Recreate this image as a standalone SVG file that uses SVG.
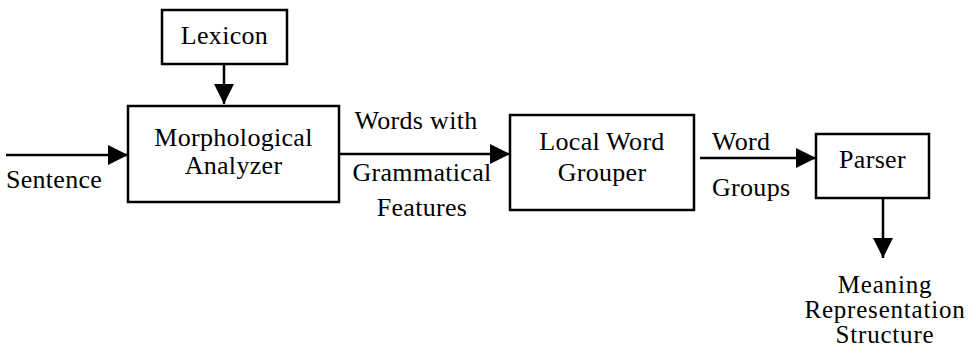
<svg xmlns="http://www.w3.org/2000/svg" width="976" height="356" viewBox="0 0 976 356">
<defs>
<marker id="ah" viewBox="0 0 20 20" refX="20" refY="10" markerWidth="20" markerHeight="20" markerUnits="userSpaceOnUse" orient="auto">
<path d="M0,0 L20,10 L0,20 Z" fill="#000"/>
</marker>
</defs>
<style>
rect{fill:#fff;stroke:#000;stroke-width:2.5}
text{font-family:"Liberation Serif","Times New Roman",serif;font-size:26px;letter-spacing:0.3px;fill:#000;text-anchor:middle}
.s{text-anchor:start}
.m{font-size:25px;letter-spacing:0.8px}
.c{stroke:#000;stroke-width:2.5;fill:none;marker-end:url(#ah)}
</style>
<rect x="0" y="0" width="976" height="356" style="stroke:none"/>
<g id="lexicon"><rect x="162" y="10" width="125" height="54"/><text x="224.5" y="44">Lexicon</text></g>
<g id="morph"><rect x="128" y="106" width="211" height="96"/><text x="233.5" y="146">Morphological</text><text x="233.5" y="174">Analyzer</text></g>
<g id="lwg"><rect x="510" y="115" width="184" height="95"/><text x="602" y="150">Local Word</text><text x="602" y="181">Grouper</text></g>
<g id="parser"><rect x="816" y="134" width="113" height="64"/><text x="872.5" y="168">Parser</text></g>
<g id="connectors">
<line class="c" x1="224" y1="64" x2="224" y2="104"/>
<line class="c" x1="6" y1="155" x2="128" y2="155"/>
<line class="c" x1="339" y1="154" x2="510" y2="154"/>
<line class="c" x1="700" y1="158" x2="816" y2="158"/>
<line class="c" x1="883" y1="198" x2="883" y2="258"/>
</g>
<g id="labels">
<text x="54" y="188">Sentence</text>
<text x="416" y="129">Words with</text>
<text x="422" y="181">Grammatical</text>
<text x="422" y="216">Features</text>
<text class="s" x="712" y="150">Word</text>
<text class="s" x="712" y="196">Groups</text>
<text class="m" x="885" y="293">Meaning</text>
<text class="m" x="885" y="318">Representation</text>
<text class="m" x="885" y="343">Structure</text>
</g>
</svg>
